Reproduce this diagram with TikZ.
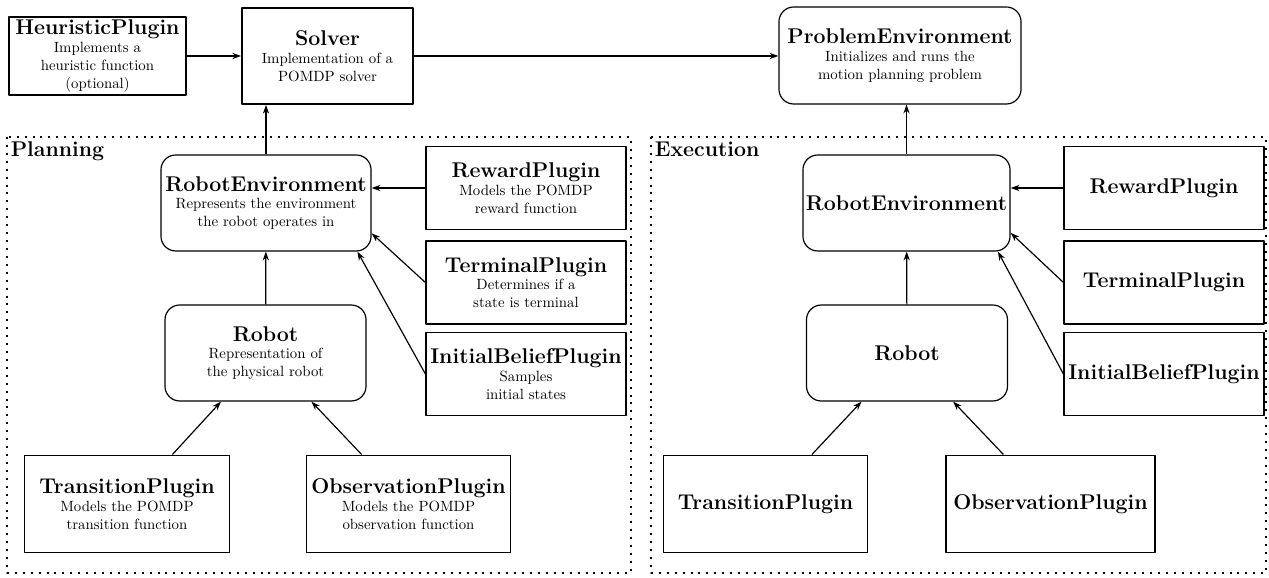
\documentclass[tikz,border=0pt]{standalone}
\usetikzlibrary{calc,arrows.meta}

\tikzset{
  plugin/.style={draw, thick, align=center, inner sep=2pt},
  envbox/.style={plugin, rounded corners=10pt},
  sidebox/.style={plugin, minimum width=135pt, minimum height=56pt},
  basebox/.style={plugin, minimum width=138pt, minimum height=66pt},
  frame/.style={line width=1.35pt, dash pattern=on 1.35pt off 4pt},
  framelabel/.style={anchor=north west, inner sep=1pt, font=\Large\bfseries},
}
\newcommand{\boxtitle}[1]{{\Large\bfseries #1}}

\begin{document}
\begin{tikzpicture}[x=0.675pt,y=-0.675pt,>={Stealth[length=6pt,width=4.2pt,inset=2pt]},line join=round]
  \useasboundingbox (0,0) rectangle (1269,578);

  % top row
  \node[plugin, minimum width=119.5pt, minimum height=52.7pt] (heur) at (97.5,56)
    {\boxtitle{HeuristicPlugin}\\ Implements a\\ heuristic function\\ (optional)};
  \node[plugin, very thick, minimum width=115.4pt, minimum height=64.8pt] (solver) at (327.5,56)
    {\boxtitle{Solver}\\ Implementation of a\\ POMDP solver};
  \node[envbox, minimum width=163.4pt, minimum height=65.5pt] (prob) at (900,55.5)
    {\boxtitle{ProblemEnvironment}\\ Initializes and runs the\\ motion planning problem};

  % planning
  \draw[frame] (7,137) rectangle (631,573);
  \node[framelabel] (plan) at (9,140) {Planning};
  \node[envbox, minimum width=141.8pt, minimum height=64.8pt] (re1) at (266,203)
    {\boxtitle{RobotEnvironment}\\ Represents the environment\\ the robot operates in};
  \node[sidebox] (rew1) at (526,188)
    {\boxtitle{RewardPlugin}\\ Models the POMDP\\ reward function};
  \node[sidebox] (term1) at (526,282.5)
    {\boxtitle{TerminalPlugin}\\ Determines if a\\ state is terminal};
  \node[sidebox] (init1) at (526,374)
    {\boxtitle{InitialBeliefPlugin}\\ Samples\\ initial states};
  \node[envbox, minimum width=135.7pt, minimum height=64.8pt] (rob1) at (265.5,353)
    {\boxtitle{Robot}\\ Representation of\\ the physical robot};
  \node[basebox] (tra1) at (127,504)
    {\boxtitle{TransitionPlugin}\\ Models the POMDP\\ transition function};
  \node[basebox] (obs1) at (408.5,504)
    {\boxtitle{ObservationPlugin}\\ Models the POMDP\\ observation function};

  % execution
  \draw[frame] (651,137) rectangle (1266,573);
  \node[framelabel] (exec) at (653,140) {Execution};
  \node[envbox, minimum width=139.7pt, minimum height=64.8pt] (re2) at (906.5,203)
    {\boxtitle{RobotEnvironment}};
  \node[sidebox] (rew2) at (1164,188) {\boxtitle{RewardPlugin}};
  \node[sidebox] (term2) at (1164,282.5) {\boxtitle{TerminalPlugin}};
  \node[sidebox] (init2) at (1164,374) {\boxtitle{InitialBeliefPlugin}};
  \node[envbox, minimum width=135.7pt, minimum height=64.8pt] (rob2) at (907,353)
    {\boxtitle{Robot}};
  \node[basebox] (tra2) at (765.5,504) {\boxtitle{TransitionPlugin}};
  \node[basebox, minimum width=141pt] (obs2) at (1050.5,504) {\boxtitle{ObservationPlugin}};

  % connectors
  \begin{scope}[thick]
    \draw[->] (heur) -- (solver);
    \draw[->] (solver.east) -- (solver.east -| prob.west);
    \draw[->] (re1.north) -- (re1.north |- solver.south);
    \draw[->] (re2.north) -- (re2.north |- prob.south);
    \foreach \s in {1,2} {
      \draw[->] (rew\s.west) -- (rew\s.west -| re\s.east);
      \draw[->] (term\s.west) -- (re\s.-16);
      \draw[->] (init\s.west) -- (re\s.-28);
      \draw[->] (rob\s) -- (re\s);
      \draw[->] (tra\s) -- (rob\s);
      \draw[->] (obs\s) -- (rob\s);
    }
  \end{scope}
\end{tikzpicture}
\end{document}
